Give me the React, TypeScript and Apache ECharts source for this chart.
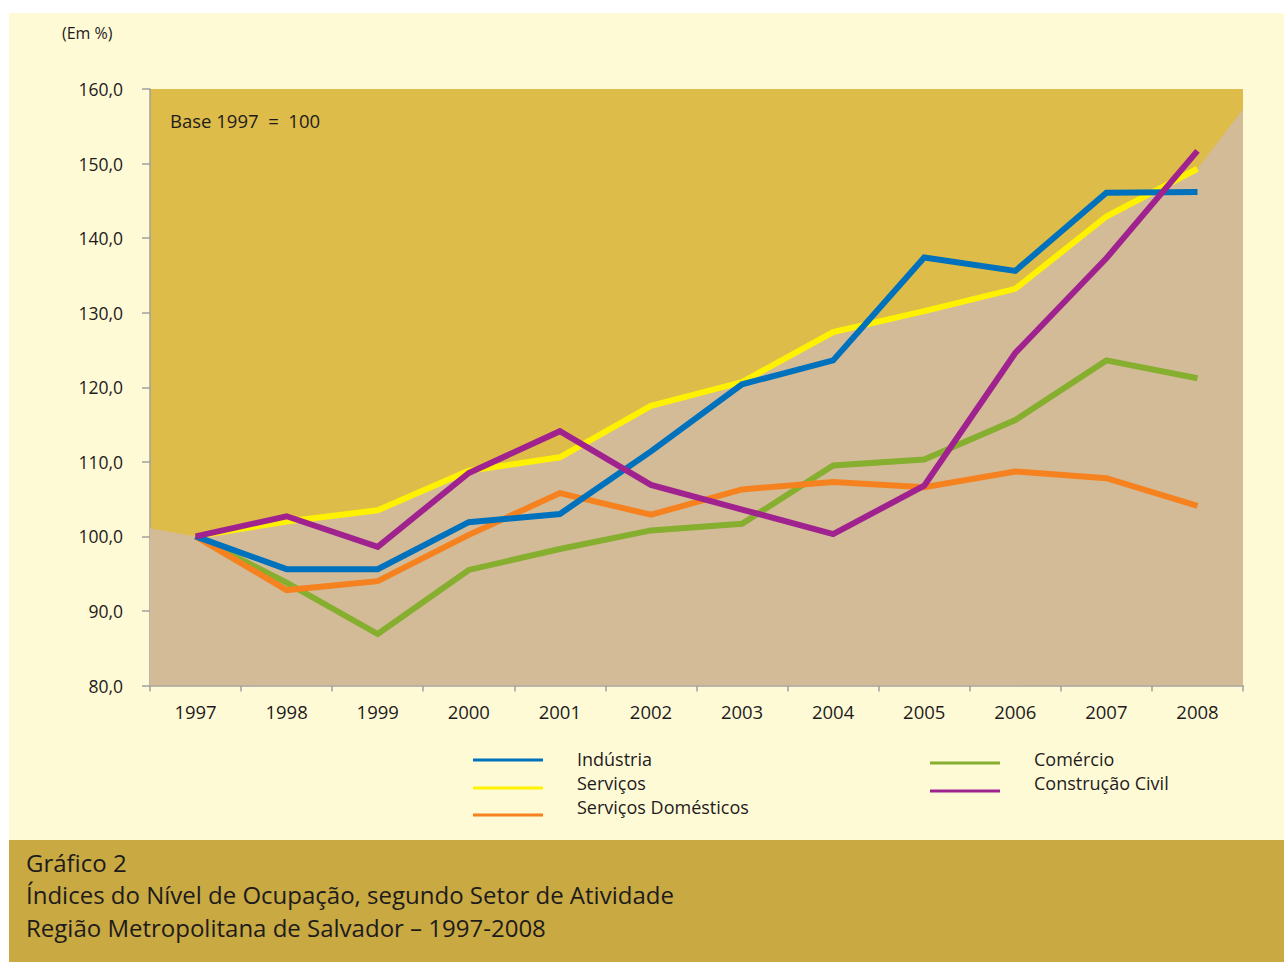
import React, { useEffect, useRef } from "react";
import * as echarts from "echarts";

const years = ["1997", "1998", "1999", "2000", "2001", "2002", "2003", "2004", "2005", "2006", "2007", "2008"];
const industria = [100, 95.6, 95.6, 101.9, 103.0, 111.4, 120.4, 123.6, 137.4, 135.6, 146.1, 146.2];
const servicos = [100, 102.0, 103.5, 108.8, 110.6, 117.5, 120.7, 127.4, 130.2, 133.2, 142.9, 149.3];
const servDomesticos = [100, 92.8, 94.0, 100.2, 105.8, 102.9, 106.3, 107.3, 106.6, 108.7, 107.8, 104.1];
const comercio = [100, 93.8, 86.9, 95.5, 98.3, 100.8, 101.7, 109.5, 110.3, 115.6, 123.6, 121.2];
const construcao = [100, 102.7, 98.6, 108.5, 114.1, 106.9, 103.6, 100.3, 106.8, 124.6, 137.3, 151.7];
// background tan area edges (value at plot left / right edge)
const areaLeftEdge = 101.1;
const areaRightEdge = 157.3;

const yMin = 80;
const yMax = 160;
const yInterval = 10;

const seriesNames = ["Indústria", "Serviços", "Serviços Domésticos", "Comércio", "Construção Civil"];
const colors = {
  industria: "#0071BC",
  servicos: "#FFF200",
  domesticos: "#F6821F",
  comercio: "#86AE2F",
  construcao: "#A0228F",
};

const titleLines = [
  "Gráfico 2",
  "Índices do Nível de Ocupação, segundo Setor de Atividade",
  "Região Metropolitana de Salvador – 1997-2008",
];

const FONT = "'Open Sans', sans-serif";
const TXT = "#1E1B1C";

export default function App() {
  const ref = useRef<HTMLDivElement>(null);

  useEffect(() => {
    document.body.style.margin = "0";
    if (!ref.current) return;
    const chart = echarts.init(ref.current, null, { renderer: "svg" });

    const areaData: [number, number][] = [[-0.5, areaLeftEdge]];
    servicos.forEach((v, i) => areaData.push([i, v]));
    areaData.push([years.length - 0.5, areaRightEdge]);

    const lineSeries = (name: string, data: number[], color: string, z: number) => ({
      name,
      type: "line",
      data,
      xAxisIndex: 0,
      yAxisIndex: 0,
      symbol: "none",
      z,
      lineStyle: { color, width: 6, join: "miter" },
    });

    const legendLeft = [
      { name: seriesNames[0], color: colors.industria, ly: 760, ty: 759 },
      { name: seriesNames[1], color: colors.servicos, ly: 788, ty: 783 },
      { name: seriesNames[2], color: colors.domesticos, ly: 815, ty: 807 },
    ];
    const legendRight = [
      { name: seriesNames[3], color: colors.comercio, ly: 763, ty: 759 },
      { name: seriesNames[4], color: colors.construcao, ly: 791, ty: 783 },
    ];
    const legendGraphics: any[] = [];
    legendLeft.forEach((l) => {
      legendGraphics.push({ type: "line", shape: { x1: 473, y1: l.ly, x2: 543, y2: l.ly }, style: { stroke: l.color, lineWidth: 3 } });
      legendGraphics.push({ type: "text", x: 577, y: l.ty, style: { text: l.name, fill: TXT, font: `18px ${FONT}`, textVerticalAlign: "middle" } });
    });
    legendRight.forEach((l) => {
      legendGraphics.push({ type: "line", shape: { x1: 930, y1: l.ly, x2: 1000, y2: l.ly }, style: { stroke: l.color, lineWidth: 3 } });
      legendGraphics.push({ type: "text", x: 1034, y: l.ty, style: { text: l.name, fill: TXT, font: `18px ${FONT}`, textVerticalAlign: "middle" } });
    });

    chart.setOption({
      animation: false,
      backgroundColor: "#FFFFFF",
      textStyle: { fontFamily: FONT },
      graphic: [
        { type: "rect", z: -10, shape: { x: 9, y: 13, width: 1275, height: 827 }, style: { fill: "#FFFAD6" } },
        { type: "rect", z: -10, shape: { x: 9, y: 840, width: 1275, height: 122 }, style: { fill: "#C8A942" } },
        { type: "text", x: 62, y: 33, style: { text: "(Em %)", fill: TXT, font: `16px ${FONT}`, textVerticalAlign: "middle" } },
        { type: "text", x: 170, y: 120, z: 10, style: { text: "Base 1997  =  100", fill: TXT, font: `18.5px ${FONT}`, textVerticalAlign: "middle" } },
        ...legendGraphics,
        ...titleLines.map((t, i) => ({
          type: "text",
          x: 26,
          y: 862 + i * 32.5,
          style: { text: t, fill: TXT, font: `24px ${FONT}`, textVerticalAlign: "middle" },
        })),
      ],
      grid: {
        left: 150,
        right: 41,
        top: 89,
        bottom: 276.5,
        show: true,
        backgroundColor: "#DEBC4A",
        borderWidth: 0,
      },
      xAxis: [
        {
          type: "category",
          data: years,
          boundaryGap: true,
          axisLine: { show: true, onZero: false, lineStyle: { color: "#A0A0A0", width: 1.5 } },
          axisTick: { show: true, length: 6, lineStyle: { color: "#A0A0A0", width: 1.5 } },
          axisLabel: { color: TXT, fontSize: 18.5, margin: 16, fontFamily: FONT },
          splitLine: { show: false },
        },
        {
          type: "value",
          min: -0.5,
          max: years.length - 0.5,
          show: false,
          axisLine: { show: false, onZero: false },
          splitLine: { show: false },
        },
      ],
      yAxis: {
        type: "value",
        min: yMin,
        max: yMax,
        interval: yInterval,
        axisLine: { show: true, onZero: false, lineStyle: { color: "#A0A0A0", width: 1.5 } },
        axisTick: { show: true, length: 8, lineStyle: { color: "#A0A0A0", width: 1.5 } },
        axisLabel: {
          color: TXT,
          fontSize: 17.5,
          margin: 27,
          fontFamily: FONT,
          formatter: (v: number) => v.toFixed(1).replace(".", ","),
        },
        splitLine: { show: false },
      },
      series: [
        {
          name: "area",
          type: "line",
          xAxisIndex: 1,
          yAxisIndex: 0,
          data: areaData,
          symbol: "none",
          z: 1,
          lineStyle: { width: 0, opacity: 0 },
          areaStyle: { color: "#D3BB98", opacity: 1 },
          silent: true,
        },
        lineSeries(seriesNames[1], servicos, colors.servicos, 2),
        lineSeries(seriesNames[3], comercio, colors.comercio, 3),
        lineSeries(seriesNames[2], servDomesticos, colors.domesticos, 4),
        lineSeries(seriesNames[0], industria, colors.industria, 5),
        lineSeries(seriesNames[4], construcao, colors.construcao, 6),
      ],
    });

    return () => chart.dispose();
  }, []);

  return <div ref={ref} style={{ width: 1284, height: 962 }} />;
}
